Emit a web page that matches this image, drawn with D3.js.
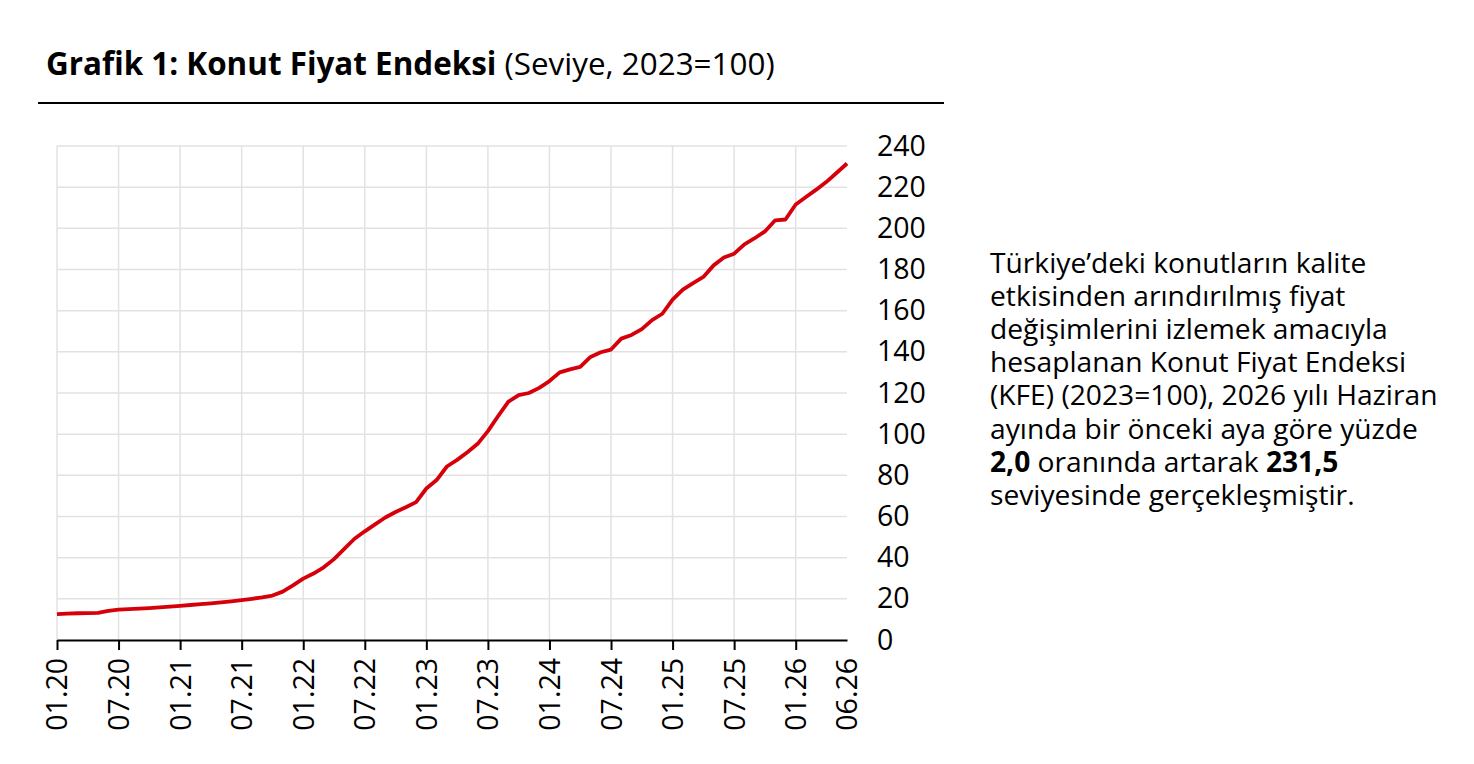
<!DOCTYPE html>
<html>
<head>
  <meta charset="UTF-8">
  <title>Konut Fiyat Endeksi</title>
  <script src="https://cdnjs.cloudflare.com/ajax/libs/d3/7.8.5/d3.min.js"></script>
  <style>
    body {
      margin: 0;
      background: #fff;
      font-family: "Open Sans", "Noto Sans", sans-serif;
    }
    .grid line {
      stroke: #e2e2e2;
      stroke-width: 1.5;
    }
    .axis text {
      font: 28.5px "Open Sans", sans-serif;
      fill: #000;
    }
    .note {
      font-size: 28.2px;
      fill: #000;
    }
  </style>
</head>
<body>
<script>
  // Months: 01.2020 .. 06.2026
  const months = d3.timeMonth.range(new Date(2020, 0, 1), new Date(2026, 6, 1));
  const categories = months.map(d3.timeFormat("%m.%y"));

  // Index level (2023=100)
  const kfe = [
    12.6, 12.8, 13.0, 13.1, 13.2, 14.2, 14.8, 15.0, 15.2, 15.5, 15.9, 16.2,
    16.6, 17.0, 17.4, 17.8, 18.3, 18.8, 19.4, 20.0, 20.7, 21.6, 23.5, 26.5,
    29.8, 32.3, 35.3, 39.3, 44.3, 49.2, 52.8, 56.2, 59.5, 62.2, 64.5, 67.0,
    73.6, 77.7, 84.3, 87.5, 91.2, 95.3, 101.5, 108.8, 115.8, 119.0, 120.0, 122.5,
    125.8, 130.0, 131.5, 132.7, 137.5, 139.8, 141.1, 146.4, 148.2, 151.0, 155.4, 158.5,
    165.4, 170.2, 173.4, 176.4, 182.0, 185.8, 187.7, 192.2, 195.2, 198.5, 203.9, 204.3,
    211.6, 215.2, 218.8, 222.6, 227.0, 231.5
  ];

  const xTickLabels = ["01.20", "07.20", "01.21", "07.21", "01.22", "07.22", "01.23",
    "07.23", "01.24", "07.24", "01.25", "07.25", "01.26", "06.26"];
  const yTicks = [0, 20, 40, 60, 80, 100, 120, 140, 160, 180, 200, 220, 240];

  const noteLines = [
    [["Türkiye’deki konutların kalite", false]],
    [["etkisinden arındırılmış fiyat", false]],
    [["değişimlerini izlemek amacıyla", false]],
    [["hesaplanan Konut Fiyat Endeksi", false]],
    [["(KFE) (2023=100), 2026 yılı Haziran", false]],
    [["ayında bir önceki aya göre yüzde", false]],
    [["2,0", true], [" oranında artarak ", false], ["231,5", true]],
    [["seviyesinde gerçekleşmiştir.", false]]
  ];

  const W = 1474, H = 764;
  const plotL = 57, plotR = 847, plotT = 146, plotB = 640;

  const svg = d3.select("body").append("svg")
    .attr("width", W)
    .attr("height", H);

  // Title
  const title = svg.append("text")
    .attr("x", 46)
    .attr("y", 75)
    .style("font-size", "31.4px");
  title.append("tspan").attr("font-weight", "bold").text("Grafik 1: Konut Fiyat Endeksi");
  title.append("tspan").text(" (Seviye, 2023=100)");

  svg.append("line")
    .attr("x1", 38).attr("x2", 944)
    .attr("y1", 103).attr("y2", 103)
    .attr("stroke", "#000")
    .attr("stroke-width", 2);

  // Scales
  const x = d3.scalePoint()
    .domain(categories)
    .range([plotL, plotR]);

  const y = d3.scaleLinear()
    .domain([0, 240])
    .range([plotB, plotT]);

  // Grid
  const grid = svg.append("g").attr("class", "grid");
  grid.selectAll(".h")
    .data(yTicks.filter(d => d > 0))
    .enter()
    .append("line")
    .attr("x1", plotL).attr("x2", plotR)
    .attr("y1", d => y(d)).attr("y2", d => y(d));
  grid.selectAll(".v")
    .data(xTickLabels.slice(0, -1))
    .enter()
    .append("line")
    .attr("x1", d => x(d)).attr("x2", d => x(d))
    .attr("y1", plotT).attr("y2", plotB);

  // Axes
  const xAxis = svg.append("g")
    .attr("class", "axis")
    .attr("transform", `translate(0,${plotB})`)
    .call(d3.axisBottom(x).tickValues(xTickLabels).tickSize(10).tickSizeOuter(0));
  xAxis.select(".domain").attr("stroke", "#000").attr("stroke-width", 2);
  xAxis.selectAll(".tick line").attr("stroke", "#000").attr("stroke-width", 2);
  xAxis.selectAll(".tick").filter(d => d === "06.26").select("line").remove();
  xAxis.selectAll(".tick text")
    .attr("transform", "rotate(-90)")
    .attr("text-anchor", "end")
    .attr("x", -18)
    .attr("y", 0)
    .attr("dy", "0.35em");

  const yAxis = svg.append("g")
    .attr("class", "axis")
    .attr("transform", `translate(${plotR},0)`)
    .call(d3.axisRight(y).tickValues(yTicks).tickSize(0).tickPadding(30));
  yAxis.select(".domain").remove();

  // Line
  const line = d3.line()
    .x((d, i) => x(categories[i]))
    .y(d => y(d));

  svg.append("path")
    .datum(kfe)
    .attr("fill", "none")
    .attr("stroke", "#d6000a")
    .attr("stroke-width", 3.8)
    .attr("stroke-linejoin", "round")
    .attr("d", line);

  // Note
  const note = svg.append("text")
    .attr("class", "note")
    .attr("x", 990)
    .attr("y", 273);
  noteLines.forEach((parts, i) => {
    parts.forEach((p, j) => {
      const t = note.append("tspan").text(p[0]);
      if (j === 0) t.attr("x", 990).attr("y", 273 + i * 33.1);
      if (p[1]) t.attr("font-weight", "bold");
    });
  });
</script>
</body>
</html>
